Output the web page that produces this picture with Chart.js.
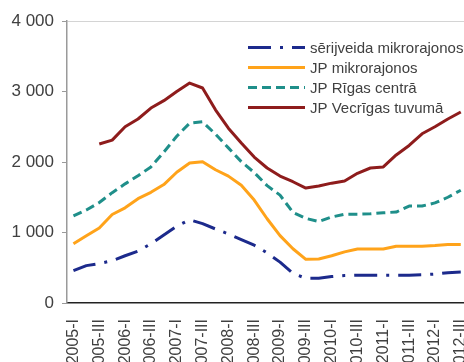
<!DOCTYPE html>
<html>
<head>
<meta charset="utf-8">
<script src="https://cdn.jsdelivr.net/npm/chart.js@4.4.1/dist/chart.umd.min.js"></script>
<style>
    html, body { margin: 0; padding: 0; background: #ffffff; }
    #lineAWrapper { position: relative; width: 464px; height: 362px; }
</style>
</head>
<body>
<div id="lineAWrapper"><canvas id="lineA"></canvas></div>
<script>
// ceturkšņi (x ass)
let quarters = [
    '2005-I', '2005-II', '2005-III', '2005-IV',
    '2006-I', '2006-II', '2006-III', '2006-IV',
    '2007-I', '2007-II', '2007-III', '2007-IV',
    '2008-I', '2008-II', '2008-III', '2008-IV',
    '2009-I', '2009-II', '2009-III', '2009-IV',
    '2010-I', '2010-II', '2010-III', '2010-IV',
    '2011-I', '2011-II', '2011-III', '2011-IV',
    '2012-I', '2012-II', '2012-III'
]
let serijveida = [460, 530, 560, 600, 670, 735, 840, 965, 1090, 1180, 1125, 1050, 980, 900, 820, 710,
    580, 420, 350, 350, 375, 390, 395, 395, 395, 395, 395, 400, 410, 430, 440]
let jpMikrorajonos = [840, 955, 1065, 1255, 1350, 1480, 1570, 1680, 1855, 1985, 2005, 1890, 1800, 1670, 1460, 1195,
    955, 770, 620, 625, 670, 725, 765, 765, 765, 805, 805, 805, 815, 830, 830]
let jpRigasCentra = [1235, 1320, 1425, 1565, 1690, 1805, 1930, 2140, 2365, 2550, 2570, 2395, 2200, 2005, 1850, 1665,
    1530, 1285, 1200, 1155, 1220, 1260, 1260, 1265, 1280, 1290, 1375, 1375, 1420, 1500, 1600]
let jpVecrigasTuvuma = [null, null, 2255, 2310, 2500, 2610, 2765, 2870, 3000, 3120, 3050, 2740, 2480, 2270, 2070, 1915,
    1800, 1720, 1630, 1660, 1700, 1730, 1840, 1915, 1930, 2100, 2235, 2400, 2500, 2610, 2710]
let yTicks = [0, 1000, 2000, 3000, 4000]

let textColor = '#404040'

function toPoints(values) {
    return values.map((v, i) => ({ x: i, y: v }))
}
function thousands(v) {
    return String(v).replace(/\B(?=(\d{3})+(?!\d))/g, ' ')
}

// leģenda iekš zīmēšanas laukuma (labajā augšējā stūrī)
const insideLegend = {
    id: 'insideLegend',
    afterDraw(chart) {
        const ctx = chart.ctx
        ctx.save()
        ctx.font = '15px "Liberation Sans", Arial, sans-serif'
        ctx.textBaseline = 'middle'
        chart.data.datasets.forEach((ds, i) => {
            let y = 47.5 + i * 20
            ctx.strokeStyle = ds.borderColor
            ctx.lineWidth = ds.borderWidth
            ctx.setLineDash(ds.borderDash || [])
            ctx.beginPath()
            ctx.moveTo(248, y)
            ctx.lineTo(305, y)
            ctx.stroke()
            ctx.setLineDash([])
            ctx.fillStyle = textColor
            ctx.fillText(ds.label, 310, y + 1)
        })
        ctx.restore()
    }
}

let lineOptionSet = {
    responsive: true,
    maintainAspectRatio: false,
    animation: false,
    layout: {
        padding: { top: 21, right: 0, bottom: 0, left: 0 }
    },
    plugins: {
        legend: { display: false },
        tooltip: { enabled: false }
    },
    elements: {
        point: { radius: 0 },
        line: { tension: 0, borderJoinStyle: 'round' }
    },
    scales: {
        x: {
            type: 'linear',
            min: -0.5,
            max: 30.25,
            afterBuildTicks: (scale) => {
                scale.ticks = quarters.map((q, i) => ({ value: i })).filter((t) => t.value % 2 === 0)
            },
            afterFit: (scale) => {
                scale.height = 59
                scale.paddingLeft = 0
                scale.paddingRight = 0
            },
            grid: { display: false },
            border: { display: true, color: '#222222', width: 1.5 },
            ticks: {
                autoSkip: false,
                maxRotation: 90,
                minRotation: 90,
                padding: 8,
                color: textColor,
                font: { family: '"Liberation Sans", Arial, sans-serif', size: 16 },
                callback: (v) => quarters[v]
            }
        },
        y: {
            min: 0,
            max: 4000,
            afterBuildTicks: (scale) => {
                scale.ticks = yTicks.map((v) => ({ value: v }))
            },
            afterFit: (scale) => {
                scale.width = 67
            },
            grid: {
                color: (c) => (c.tick && c.tick.value === 4000 ? '#d4d4d4' : 'transparent'),
                tickColor: '#9a9a9a',
                tickLength: 5,
                drawTicks: true
            },
            border: { display: true, color: '#9a9a9a', width: 1.5 },
            ticks: {
                padding: 8,
                color: textColor,
                font: { family: '"Liberation Sans", Arial, sans-serif', size: 17 },
                callback: (v) => thousands(v)
            }
        }
    }
}

function loadLineA() {
    let chartData = {
        datasets: [
            {
                label: 'sērijveida mikrorajonos',
                data: toPoints(serijveida),
                borderColor: '#1c2a8c',
                borderWidth: 3,
                borderDash: [23, 9, 3, 9]
            },
            {
                label: 'JP mikrorajonos',
                data: toPoints(jpMikrorajonos),
                borderColor: '#ffa31a',
                borderWidth: 3
            },
            {
                label: 'JP Rīgas centrā',
                data: toPoints(jpRigasCentra),
                borderColor: '#1f8f8a',
                borderWidth: 3,
                borderDash: [9, 5]
            },
            {
                label: 'JP Vecrīgas tuvumā',
                data: toPoints(jpVecrigasTuvuma),
                borderColor: '#8e1c1c',
                borderWidth: 3
            }
        ]
    }
    new Chart(document.getElementById('lineA'), {
        type: 'line',
        data: chartData,
        options: lineOptionSet,
        plugins: [insideLegend]
    })
}

loadLineA()
</script>
</body>
</html>
